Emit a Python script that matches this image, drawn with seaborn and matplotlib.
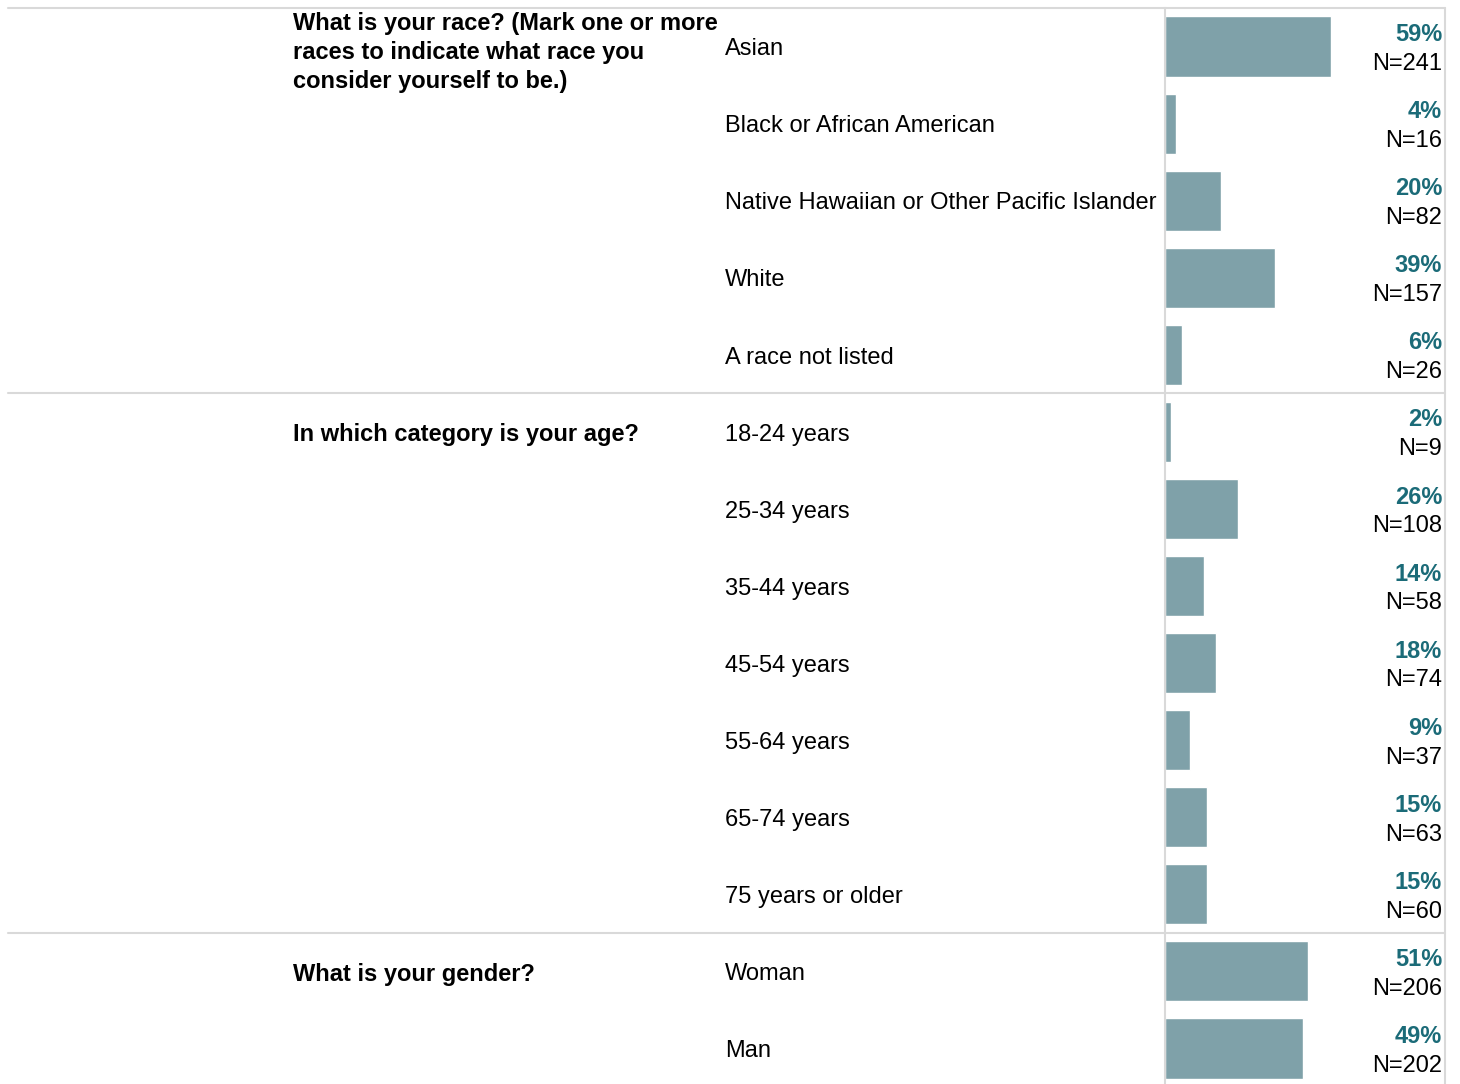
import matplotlib
matplotlib.use("Agg")
import matplotlib.pyplot as plt
import matplotlib.transforms as mtransforms
import pandas as pd
import seaborn as sns

# survey demographics -- one row per answer option
questions = [
    "What is your race? (Mark one or more\nraces to indicate what race you\nconsider yourself to be.)",
    "In which category is your age?",
    "What is your gender?",
]
question_rows = [0, 5, 12]  # first row of each question block

answers = [
    "Asian", "Black or African American", "Native Hawaiian or Other Pacific Islander",
    "White", "A race not listed",
    "18-24 years", "25-34 years", "35-44 years", "45-54 years",
    "55-64 years", "65-74 years", "75 years or older",
    "Woman", "Man",
]
pct = [59, 4, 20, 39, 6, 2, 26, 14, 18, 9, 15, 15, 51, 49]
counts = [241, 16, 82, 157, 26, 9, 108, 58, 74, 37, 63, 60, 206, 202]

BAR_COLOR = "#7fa1a9"
PCT_COLOR = "#1b6b78"
LINE_COLOR = "#d9d9d9"

sns.set_theme(style="white")
plt.rcParams["font.family"] = ["Liberation Sans", "DejaVu Sans"]
plt.rcParams["text.color"] = "black"

W, H = 1460, 1084
fig = plt.figure(figsize=(W / 100, H / 100), dpi=100)

# bar panel sits on the right, x in pixels converted to figure fraction
# (bottom runs a few px past the canvas so the last row is cut like the original)
x0, x1 = 1165 / W, 1446 / W
y_top, y_bot = 8, 1087
ax = fig.add_axes([x0, 1 - y_bot / H, x1 - x0, (y_bot - y_top) / H])

df = pd.DataFrame({"answer": answers, "pct": pct})
sns.barplot(data=df, x="pct", y="answer", order=answers, color=BAR_COLOR,
            width=0.78, saturation=1, ax=ax)

ax.set_xlim(0, 100)
ax.set_ylim(len(answers) - 0.5, -0.5)
ax.set_xlabel("")
ax.set_ylabel("")
ax.set_xticks([])
ax.set_yticks([])
for side in ["top", "bottom", "right"]:
    ax.spines[side].set_visible(False)
ax.spines["left"].set_color(LINE_COLOR)
ax.spines["left"].set_linewidth(1.5)

# x in figure fraction, y in data rows
trans = mtransforms.blended_transform_factory(fig.transFigure, ax.transData)

# right border of the table
fig.add_artist(plt.Line2D([1445 / W, 1445 / W], [0, 1 - y_top / H],
                          transform=fig.transFigure, color=LINE_COLOR, lw=1.5))

# separators between question blocks (and the top border)
for r in [-0.5, 4.5, 11.5]:
    fig.add_artist(plt.Line2D([8 / W, 1445 / W], [r, r], transform=trans,
                              color=LINE_COLOR, lw=1.5))

FS = 17
dy = 0.035  # nudge text down a touch to match the original baseline

for i, q in enumerate(questions):
    r = question_rows[i]
    if "\n" in q:
        ax.text(293 / W, r - 0.45, q, transform=trans, ha="left", va="top",
                fontsize=FS, fontweight="bold", linespacing=1.34, clip_on=False)
    else:
        ax.text(293 / W, r + dy, q, transform=trans, ha="left", va="center",
                fontsize=FS, fontweight="bold", clip_on=False)

for i, a in enumerate(answers):
    ax.text(725 / W, i + dy, a, transform=trans, ha="left", va="center",
            fontsize=FS, clip_on=False)
    ax.text(1442 / W, i - 0.19 + dy, f"{pct[i]}%", transform=trans, ha="right",
            va="center", fontsize=FS, fontweight="bold", color=PCT_COLOR,
            clip_on=False)
    ax.text(1442 / W, i + 0.19 + dy, f"N={counts[i]}", transform=trans, ha="right",
            va="center", fontsize=FS, clip_on=False)

fig.savefig("out.png", dpi=100)
